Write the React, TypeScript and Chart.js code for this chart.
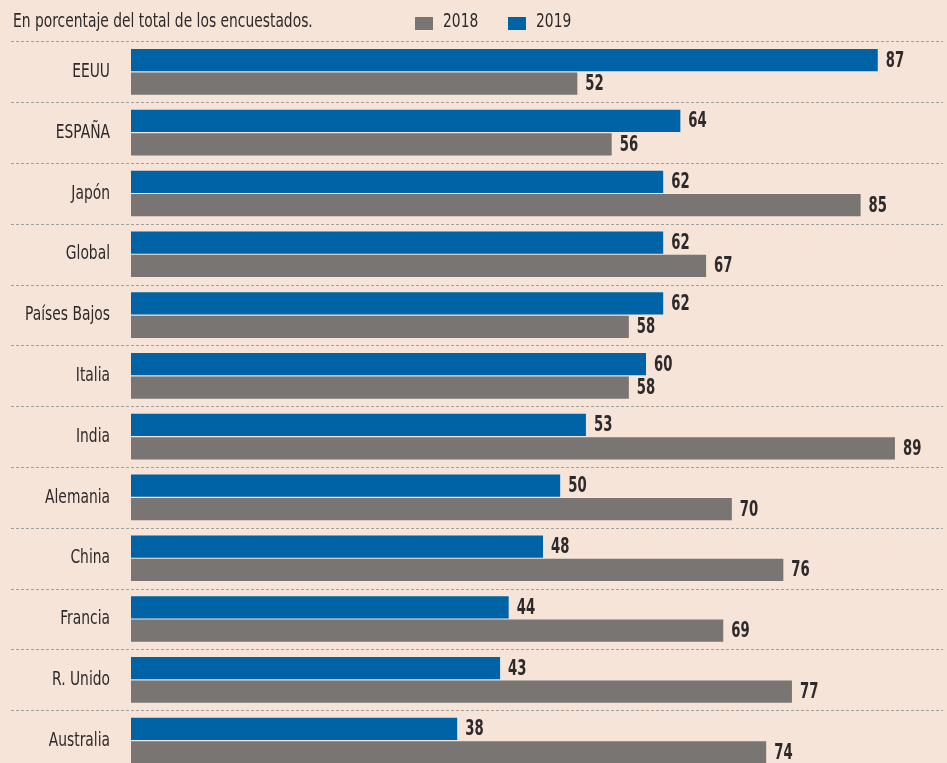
import React, { useEffect, useRef } from "react";
import { Chart, registerables } from "chart.js";

Chart.register(...registerables);

const categories = [
  "EEUU",
  "ESPAÑA",
  "Japón",
  "Global",
  "Países Bajos",
  "Italia",
  "India",
  "Alemania",
  "China",
  "Francia",
  "R. Unido",
  "Australia",
];
const values2019 = [87, 64, 62, 62, 62, 60, 53, 50, 48, 44, 43, 38];
const values2018 = [52, 56, 85, 67, 58, 58, 89, 70, 76, 69, 77, 74];
const seriesLabels = ["2018", "2019"];
const subtitle = "En porcentaje del total de los encuestados.";

const BG = "#f5e4d7";
const BLUE = "#0063a6";
const GRAY = "#797572";
const TEXT = "#2e2a2b";
const FONT = "'DejaVu Sans Condensed', 'Liberation Sans Narrow', 'DejaVu Sans', sans-serif";

function drawText(
  ctx: CanvasRenderingContext2D,
  text: string,
  x: number,
  y: number,
  align: CanvasTextAlign,
  font: string,
  sx: number
) {
  ctx.save();
  ctx.translate(x, y);
  ctx.scale(sx, 1);
  ctx.font = font;
  ctx.textAlign = align;
  ctx.textBaseline = "middle";
  ctx.fillStyle = TEXT;
  ctx.fillText(text, 0, 0);
  ctx.restore();
}

const decorPlugin = {
  id: "decor",
  beforeDraw(chart: any) {
    const { ctx, width, height } = chart;
    ctx.save();
    ctx.fillStyle = BG;
    ctx.fillRect(0, 0, width, height);
    ctx.restore();
  },
  beforeDatasetsDraw(chart: any) {
    const { ctx, chartArea } = chart;
    const yScale = chart.scales.y;
    const labels: string[] = chart.data.labels;
    const n = labels.length;
    const step = n > 1 ? yScale.getPixelForValue(1) - yScale.getPixelForValue(0) : 0;

    // dashed row separators
    ctx.save();
    ctx.strokeStyle = "#a39f9d";
    ctx.lineWidth = 1;
    ctx.setLineDash([3, 2]);
    for (let i = 0; i <= n; i++) {
      const y = Math.round(yScale.getPixelForValue(i) - step / 2) + 0.5;
      ctx.beginPath();
      ctx.moveTo(11, y);
      ctx.lineTo(chartArea.right, y);
      ctx.stroke();
    }
    ctx.restore();

    // category labels, placed with the category scale
    labels.forEach((lab: string, i: number) => {
      drawText(ctx, lab, chartArea.left - 21, yScale.getPixelForValue(i), "right", `20px ${FONT}`, 0.77);
    });

    // subtitle
    drawText(ctx, subtitle, 13, 22, "left", `20px ${FONT}`, 0.77);

    // legend (2018, 2019)
    const ds = chart.data.datasets;
    const legendOrder = [1, 0];
    const xs = [415, 508];
    legendOrder.forEach((di: number, k: number) => {
      const d = ds[di];
      ctx.save();
      ctx.fillStyle = d.backgroundColor;
      ctx.fillRect(xs[k], 17, 18, 13);
      ctx.restore();
      drawText(ctx, d.label, xs[k] + 28, 22, "left", `20px ${FONT}`, 0.77);
    });
  },
  afterDatasetsDraw(chart: any) {
    const { ctx } = chart;
    chart.data.datasets.forEach((d: any, di: number) => {
      const meta = chart.getDatasetMeta(di);
      meta.data.forEach((el: any, i: number) => {
        drawText(ctx, String(d.data[i]), el.x + 8, el.y + 1, "left", `bold 21px ${FONT}`, 0.7);
      });
    });
  },
};

export default function App() {
  const ref = useRef<HTMLCanvasElement | null>(null);
  useEffect(() => {
    if (!ref.current) return;
    const chart = new Chart(ref.current, {
      type: "bar",
      data: {
        labels: categories,
        datasets: [
          {
            label: seriesLabels[1],
            data: values2019,
            backgroundColor: BLUE,
            categoryPercentage: 0.77,
            barPercentage: 0.95,
          },
          {
            label: seriesLabels[0],
            data: values2018,
            backgroundColor: GRAY,
            categoryPercentage: 0.77,
            barPercentage: 0.95,
          },
        ],
      },
      options: {
        indexAxis: "y",
        animation: false,
        responsive: false,
        maintainAspectRatio: false,
        devicePixelRatio: 1,
        layout: { padding: { top: 41.5, right: 4, bottom: 4, left: 0 } },
        plugins: {
          legend: { display: false },
          tooltip: { enabled: false },
        },
        scales: {
          x: {
            display: false,
            min: 0,
            max: 94.6,
          },
          y: {
            grid: { display: false, drawTicks: false },
            border: { display: false },
            ticks: { display: false },
            afterFit(scale: any) {
              scale.width = 131;
            },
          },
        },
      },
      plugins: [decorPlugin],
    });
    return () => chart.destroy();
  }, []);

  return (
    <div
      style={{
        position: "absolute",
        left: 0,
        top: 0,
        width: 947,
        height: 763,
        overflow: "hidden",
        background: BG,
      }}
    >
      <canvas ref={ref} width={947} height={775} style={{ display: "block" }} />
    </div>
  );
}
